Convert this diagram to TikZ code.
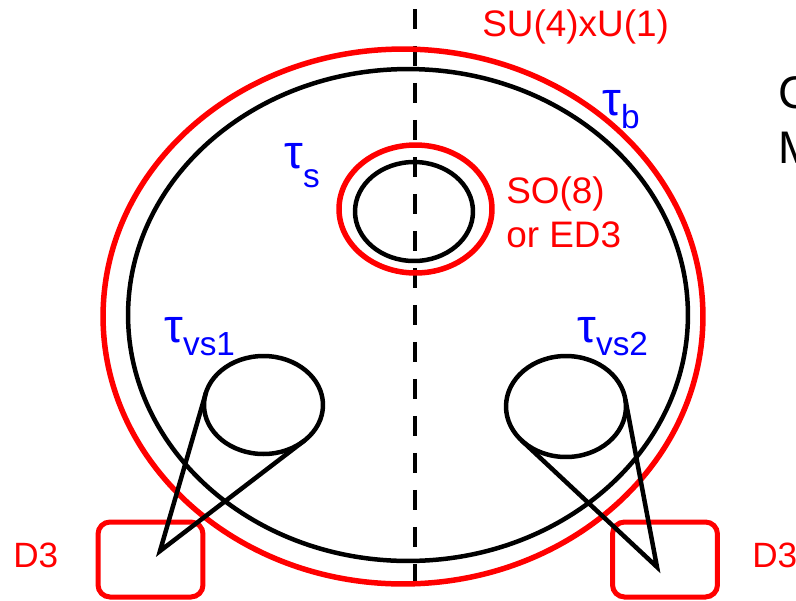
\documentclass[tikz,border=0pt]{standalone}
\usepackage{fontspec}
\setmainfont{Liberation Sans}
\usetikzlibrary{shapes.geometric}
\newcommand{\tausub}[2]{{\fontsize{27}{30}\selectfont τ}\raisebox{-#2}{\fontsize{19}{20}\selectfont #1}}

\begin{document}
\begin{tikzpicture}[
  x=0.02cm, y=-0.02cm,
  ring/.style={ellipse, draw=black, inner sep=0pt, outer sep=0pt, line width=0.09cm},
  redring/.style={ring, draw=red, line width=0.11cm},
  dbox/.style={rectangle, rounded corners=0.24cm, draw=red, line width=0.1cm,
               minimum width=2.1cm, minimum height=1.5cm, inner sep=0pt},
  grp/.style={font=\fontsize{21}{25}\selectfont, text=red, anchor=base west, inner sep=0pt},
  tlbl/.style={font=\fontsize{21}{25}\selectfont, text=blue, anchor=base west, inner sep=0pt},
  leg/.style={line width=0.09cm},
  mirror/.style={line width=0.09cm, dash pattern=on 0.4cm off 0.34cm},
]
\useasboundingbox (0,0) rectangle (796,600);
% symmetry axis
\coordinate (axtop) at (415,9);
\coordinate (axbot) at (415,600);
\draw[mirror] (axtop) -- (axbot);
% bulk
\node[redring, minimum width=12cm, minimum height=10.7cm] (outer) at (403,316.5) {};
\node[ring, minimum width=11.2cm, minimum height=9.84cm] (bulk) at (408,315) {};
% small cycle
\node[redring, minimum width=3.06cm, minimum height=2.56cm] (so8ring) at (415.5,209) {};
\node[ring, minimum width=2.36cm, minimum height=1.98cm] (small) at (414,211.5) {};
% vanishing cycles
\node[ring, minimum width=2.38cm, minimum height=1.96cm] (vs1) at (263.5,405) {};
\node[ring, minimum width=2.4cm, minimum height=2.02cm] (vs2) at (566,406.5) {};
% D3 boxes
\node[dbox] (d3l) at (150.5,559.5) {};
\node[dbox] (d3r) at (665,559.5) {};
\coordinate (tipl) at (160,551);
\coordinate (tipr) at (657,567);
\draw[leg] (vs1.168.9) -- (tipl) -- (vs1.-41.6);
\draw[leg] (vs2.7.6) -- (tipr) -- (vs2.217.2);
% labels
\node[grp] (su4) at (482,36) {SU(4)xU(1)};
\node[grp] (so8) at (506,203) {SO(8)};
\node[grp] (ed3) at (506,247) {or ED3};
\node[grp, font=\fontsize{20}{24}\selectfont] (d3ltext) at (13,567) {D3};
\node[grp, font=\fontsize{20}{24}\selectfont] (d3rtext) at (752,567) {D3};
\node[tlbl] (taub) at (602,115) {\tausub{b}{0.26cm}};
\node[tlbl] (taus) at (284,168) {\tausub{s}{0.38cm}};
\node[tlbl] (tauvs1) at (164,342) {\tausub{vs1}{0.26cm}};
\node[tlbl] (tauvs2) at (577,342) {\tausub{vs2}{0.26cm}};
% cut-off text at the right edge
\node[anchor=base west, inner sep=0pt, font=\fontsize{26}{30}\selectfont] (cword) at (778,108) {C};
\node[anchor=base west, inner sep=0pt, font=\fontsize{26}{30}\selectfont] (mword) at (778,163) {M};
\end{tikzpicture}
\end{document}
